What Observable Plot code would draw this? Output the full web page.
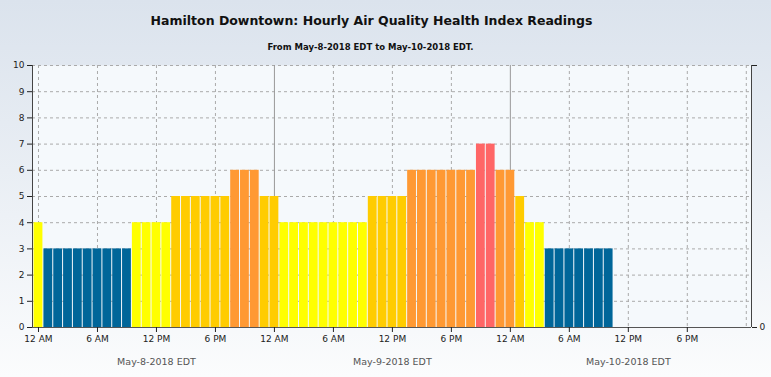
<!DOCTYPE html>
<html><head><meta charset="utf-8">
<script src="https://cdn.jsdelivr.net/npm/d3@7"></script>
<script src="https://cdn.jsdelivr.net/npm/@observablehq/plot@0.6"></script>
<style>
body{margin:0;width:771px;height:377px;overflow:hidden;background:linear-gradient(to bottom,#dbe3ed 0%,#e9eef4 45%,#fbfcfd 100%);font-family:"DejaVu Sans",Verdana,sans-serif;}
#head{position:relative;height:55px;}
#title{position:absolute;left:0;width:743px;top:13px;text-align:center;font-weight:bold;font-size:12.5px;color:#111;}
#sub{position:absolute;left:0;width:741px;top:42px;text-align:center;font-weight:bold;font-size:8.5px;color:#111;}
#chart svg{display:block;}
</style></head><body>
<div id="head"><div id="title">Hamilton Downtown: Hourly Air Quality Health Index Readings</div><div id="sub">From May-8-2018 EDT to May-10-2018 EDT.</div></div>
<div id="chart"></div>
<script>
// hours since 12 AM May-8-2018 EDT
const hours = [0,1,2,3,4,5,6,7,8,9,10,11,12,13,14,15,16,17,18,19,20,21,22,23,24,25,26,27,28,29,30,31,32,33,34,35,36,37,38,39,40,41,42,43,44,45,46,47,48,49,50,51,52,53,54,55,56,57,58];
const aqhi  = [4,3,3,3,3,3,3,3,3,3,4,4,4,4,5,5,5,5,5,5,6,6,6,5,5,4,4,4,4,4,4,4,4,4,5,5,5,5,6,6,6,6,6,6,6,7,7,6,6,5,4,4,3,3,3,3,3,3,3];
const levels = [3,4,5,6,7];
const levelColors = ["#006699","#ffff00","#ffcc00","#ff9933","#ff6666"];
const yTicks = [0,1,2,3,4,5,6,7,8,9,10];
const tickHours = [0,6,12,18,24,30,36,42,48,54,60,66];
const tickLabels = ["12 AM","6 AM","12 PM","6 PM"];
const gridHours = [0,6,12,18,30,36,42,54,60,66,72];
const dayStarts = [24,48];
const dayLabels = ["May-8-2018 EDT","May-9-2018 EDT","May-10-2018 EDT"];
const dayNoons = [12,36,60];

const data = hours.map((h,i)=>({h, v: aqhi[i]}));
const days = dayLabels.map((t,i)=>({t, x: dayNoons[i]}));
const xMin = -0.61, xMax = 72.53;

const chart = Plot.plot({
  width: 771, height: 322,
  marginTop: 10, marginBottom: 50, marginLeft: 32, marginRight: 20,
  style: {background: "transparent", fontFamily: "DejaVu Sans, Verdana, sans-serif", fontSize: "9px", color: "#222"},
  x: {domain: [xMin, xMax]},
  y: {domain: [0, 10]},
  color: {type: "ordinal", domain: levels, range: levelColors},
  marks: [
    Plot.frame({fill: "#f5f9fc", stroke: "none"}),
    Plot.gridY({ticks: yTicks.slice(1), stroke: "#aaa", strokeOpacity: 1, strokeDasharray: "3,3"}),
    Plot.gridX({ticks: gridHours, stroke: "#aaa", strokeOpacity: 1, strokeDasharray: "3,3"}),
    Plot.ruleX(dayStarts, {stroke: "#999", strokeWidth: 1}),
    Plot.rectY(data, {x1: d => d.h - 0.5, x2: d => d.h + 0.5, y: "v", fill: "v", insetLeft: 0.5, insetRight: 0.5}),
    Plot.ruleY([0], {stroke: "#555"}),
    Plot.ruleX([xMin], {y1: 0, y2: 10, stroke: "#444"}),
    Plot.ruleX([xMax], {y1: 0, y2: 10, stroke: "#444"}),
    Plot.axisY({ticks: yTicks, tickSize: 5, tickPadding: 3, label: null}),
    Plot.axisY({anchor: "right", ticks: [0, 10], tickFormat: d => d === 0 ? "0" : "", tickSize: 5, tickPadding: 3, label: null}),
    Plot.axisX({ticks: tickHours, tickFormat: h => tickLabels[(h % 24) / 6], tickSize: 5, tickPadding: 3, label: null}),
    Plot.text(days, {x: "x", y: () => 0, text: "t", dy: 34, fill: "#555", fontSize: 9.5})
  ]
});
document.getElementById("chart").append(chart);
</script>
</body></html>
